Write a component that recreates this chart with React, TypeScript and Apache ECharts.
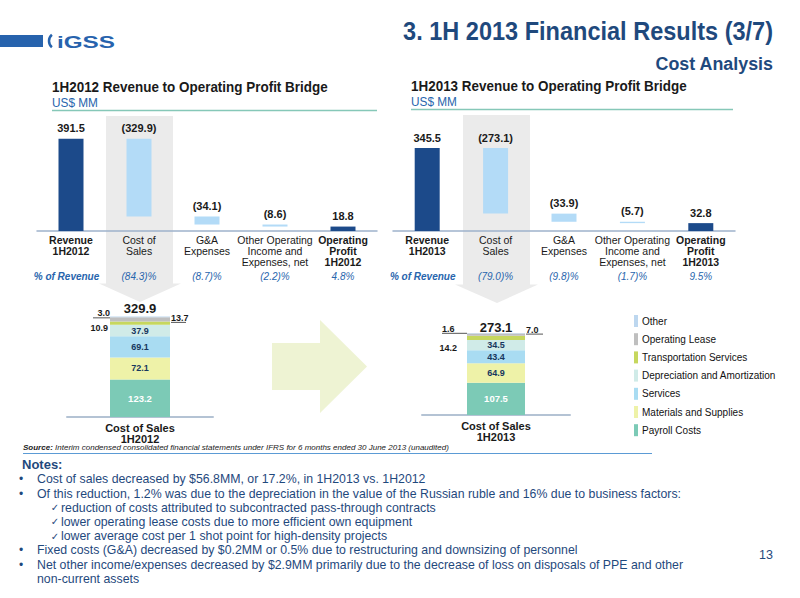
import React, { useEffect, useRef } from "react";
import * as echarts from "echarts";

const FONT = "'Liberation Sans Narrow', 'Liberation Sans', Arial, sans-serif";

// ---------------- data ----------------
const bridgeCats2012 = ["Revenue\n1H2012", "Cost of\nSales", "G&A\nExpenses", "Other Operating\nIncome and\nExpenses, net", "Operating\nProfit\n1H2012"];
const bridgeCats2013 = ["Revenue\n1H2013", "Cost of\nSales", "G&A\nExpenses", "Other Operating\nIncome and\nExpenses, net", "Operating\nProfit\n1H2013"];
const bridgeValues2012 = [391.5, -329.9, -34.1, -8.6, 18.8];
const bridgeValues2013 = [345.5, -273.1, -33.9, -5.7, 32.8];
const pctLabels2012 = ["% of Revenue", "(84.3)%", "(8.7)%", "(2.2)%", "4.8%"];
const pctLabels2013 = ["% of Revenue", "(79.0)%", "(9.8)%", "(1.7)%", "9.5%"];

const costComponents = ["Payroll Costs", "Materials and Supplies", "Services", "Depreciation and Amortization", "Transportation Services", "Operating Lease", "Other"];
const costs2012 = [123.2, 72.1, 69.1, 37.9, 10.9, 13.7, 3.0];
const costs2013 = [107.5, 64.9, 43.4, 34.5, 14.2, 7.0, 1.6];
const costTotal2012 = 329.9;
const costTotal2013 = 273.1;
const costCat2012 = ["Cost of Sales\n1H2012"];
const costCat2013 = ["Cost of Sales\n1H2013"];
const legendOrder = ["Other", "Operating Lease", "Transportation Services", "Depreciation and Amortization", "Services", "Materials and Supplies", "Payroll Costs"];

const notesLines = [
  { lvl: 1, text: "Cost of sales decreased by $56.8MM, or 17.2%, in 1H2013 vs. 1H2012" },
  { lvl: 1, text: "Of this reduction, 1.2% was due to the depreciation in the value of the Russian ruble and 16% due to business factors:" },
  { lvl: 2, text: "reduction of costs attributed to subcontracted pass-through contracts" },
  { lvl: 2, text: "lower operating lease costs due to more efficient own equipment" },
  { lvl: 2, text: "lower average cost per 1 shot point for high-density projects" },
  { lvl: 1, text: "Fixed costs (G&A) decreased by $0.2MM or 0.5% due to restructuring and downsizing of personnel" },
  { lvl: 1, text: "Net other income/expenses decreased by $2.9MM primarily due to the decrease of loss on disposals of PPE and other" },
  { lvl: 0, text: "non-current assets" },
];

// ---------------- styles ----------------
const NAVY = "#1c4a8a";
const LIGHT = "#b3dbf7";
const TXT = "#1a1a1a";
const DARKBLUE = "#1F497D";
const MIDBLUE = "#2865ad";
const stackColors = ["#7ccab6", "#eef2a8", "#a9dcf2", "#d0ebe8", "#c6d75e", "#bfbfbf", "#bdd7ef"];

let _ctx: CanvasRenderingContext2D | null = null;
function measure(text: string, font: string): number {
  if (!_ctx) _ctx = document.createElement("canvas").getContext("2d");
  if (!_ctx) return text.length * 6;
  _ctx.font = font;
  return _ctx.measureText(text).width;
}

function gtext(text: string, x: number, y: number, o: any) {
  const size = o.size || 12;
  const weight = o.weight || "normal";
  const fstyle = o.fstyle || "normal";
  const font = `${fstyle} ${weight} ${size}px ${FONT}`;
  const sx = o.target ? o.target / measure(text, font) : o.scale || 1;
  return {
    type: "text",
    x,
    y,
    scaleX: sx,
    z: 5,
    silent: true,
    style: {
      text,
      fontSize: size,
      fontWeight: weight,
      fontStyle: fstyle,
      fontFamily: FONT,
      fill: o.color || TXT,
      align: o.align || "left",
      textAlign: o.align || "left",
      verticalAlign: "middle",
      textVerticalAlign: "middle",
    },
  };
}

function bridgeSeries(vals: number[], axisIdx: number, stack: string) {
  let running = vals[0];
  const base = vals.map((v, i) => {
    if (i === 0 || i === vals.length - 1) return 0;
    running += v;
    return running;
  });
  const heights = vals.map((v, i) => ({
    value: Math.abs(v),
    itemStyle: { color: i === 0 || i === vals.length - 1 ? NAVY : LIGHT },
  }));
  return [
    {
      type: "bar", name: stack + "base", stack, xAxisIndex: axisIdx, yAxisIndex: axisIdx,
      barWidth: 25, silent: true, itemStyle: { color: "transparent" }, data: base,
    },
    {
      type: "bar", name: stack + "val", stack, xAxisIndex: axisIdx, yAxisIndex: axisIdx,
      barWidth: 25, silent: true, data: heights,
      label: {
        show: true, position: "top", distance: 5, fontFamily: FONT, fontSize: 11, fontWeight: "bold", color: TXT,
        formatter: (p: any) => {
          const v = vals[p.dataIndex];
          return v < 0 ? `(${Math.abs(v).toFixed(1)})` : v.toFixed(1);
        },
      },
    },
  ];
}

function stackLabel(i: number, y2012: boolean): any {
  const fmt = (p: any) => Number(p.value).toFixed(1);
  const base = { show: true, fontFamily: FONT, fontSize: 9, fontWeight: "bold", formatter: fmt };
  if (i === 0) return { ...base, position: "inside", color: "#ffffff", fontSize: 9.5 };
  if (i <= 3) return { ...base, position: "inside", color: "#17375e" };
  if (i === 4)
    return { ...base, position: "left", color: TXT, distance: y2012 ? 2 : 10, offset: [0, y2012 ? 5 : 10] };
  const under = (w: number, align: string) => ({
    t: { fontFamily: FONT, fontSize: 9, fontWeight: "bold", color: TXT, lineHeight: 8, align },
    u: { width: w, height: 1, lineHeight: 1, backgroundColor: "#555" },
  });
  if (i === 5)
    return {
      show: true, position: "right", distance: 1, offset: [0, y2012 ? -1 : -4.5],
      formatter: (p: any) => `{t|${Number(p.value).toFixed(1)}}\n{u|}`,
      rich: under(y2012 ? 15 : 17, "left"),
    };
  return {
    show: true, position: "left", distance: 0, offset: [0, y2012 ? -3 : -4],
    formatter: (p: any) => `{t|${Number(p.value).toFixed(1)}}\n{u|}`,
    rich: under(y2012 ? 17 : 25, y2012 ? "right" : "left"),
  };
}

function stackSeries(vals: number[], axisIdx: number, stack: string, y2012: boolean, total: number) {
  const w = y2012 ? 60 : 58;
  const s: any[] = costComponents.map((name, i) => ({
    type: "bar", name, stack, stackStrategy: "all", xAxisIndex: axisIdx, yAxisIndex: axisIdx,
    barWidth: w, silent: true, data: [vals[i]], itemStyle: { color: stackColors[i] },
    label: stackLabel(i, y2012),
  }));
  s.push({
    type: "bar", name: stack + "total", stack, stackStrategy: "all", xAxisIndex: axisIdx, yAxisIndex: axisIdx,
    barWidth: w, silent: true, data: [0], itemStyle: { color: "transparent" },
    label: {
      show: true, position: "top", distance: y2012 ? 1 : -1, fontFamily: FONT, fontSize: 13, fontWeight: "bold", color: TXT,
      formatter: () => total.toFixed(1),
    },
  });
  return s;
}

const bridgeAxisLabel = (boldIdx: number[]) => ({
  interval: 0,
  margin: 3,
  formatter: (v: string, i: number) =>
    v.split("\n").map((l) => `{${boldIdx.includes(i) ? "b" : "n"}|${l}}`).join("\n"),
  rich: {
    b: { fontFamily: FONT, fontSize: 10.5, fontWeight: "bold", color: TXT, lineHeight: 11 },
    n: { fontFamily: FONT, fontSize: 10.5, fontWeight: "normal", color: TXT, lineHeight: 11 },
  },
});

const pctAxisLabel = {
  interval: 0,
  margin: 2,
  formatter: (v: string, i: number) => (i === 0 ? `{f|${v}}` : `{p|${v}}`),
  rich: {
    f: { fontFamily: FONT, fontSize: 10, fontWeight: "bold", fontStyle: "italic", color: MIDBLUE, padding: [0, 9, 0, 0] },
    p: { fontFamily: FONT, fontSize: 10, fontStyle: "italic", color: MIDBLUE },
  },
};

const costAxisLabel = {
  margin: 5.5,
  fontFamily: FONT,
  fontSize: 11,
  fontWeight: "bold",
  color: TXT,
  lineHeight: 11,
};

function buildGraphics() {
  const g: any[] = [];
  // logo
  g.push({ type: "rect", shape: { x: 0, y: 35, width: 43, height: 12 }, style: { fill: "#2763ad" } });
  g.push({
    type: "arc", shape: { cx: 57, cy: 41, r: 8, startAngle: Math.PI * 0.72, endAngle: Math.PI * 1.28 },
    style: { stroke: "#2763ad", lineWidth: 2.5, fill: null },
  });
  g.push(gtext("iGSS", 57, 41.5, { size: 17, weight: "bold", color: "#2763ad", target: 58 }));
  // headline
  const titleText = "3. 1H 2013 Financial Results (3/7)";
  const tFont = `normal bold 25px ${FONT}`;
  const tScale = 370 / measure(titleText, tFont);
  g.push(gtext(titleText, 773, 31, { size: 25, weight: "bold", color: DARKBLUE, align: "right", scale: tScale }));
  g.push(gtext("Cost Analysis", 773, 63.5, { size: 19, weight: "bold", color: DARKBLUE, align: "right", scale: tScale }));

  // grey highlight columns with down arrows
  g.push({ type: "rect", z: -1, silent: true, shape: { x: 106, y: 116, width: 67, height: 168 }, style: { fill: "#ebebeb" } });
  g.push({ type: "polygon", z: -1, silent: true, shape: { points: [[99, 283.5], [181, 283.5], [140, 302]] }, style: { fill: "#ebebeb" } });
  g.push({ type: "rect", z: -1, silent: true, shape: { x: 463, y: 115, width: 67, height: 170 }, style: { fill: "#ebebeb" } });
  g.push({ type: "polygon", z: -1, silent: true, shape: { points: [[455, 284.5], [538, 284.5], [497, 303]] }, style: { fill: "#ebebeb" } });

  // bridge titles
  const bt1 = "1H2012 Revenue to Operating Profit Bridge";
  const bt2 = "1H2013 Revenue to Operating Profit Bridge";
  g.push(gtext(bt1, 52, 87, { size: 14, weight: "bold", color: TXT, target: 276 }));
  g.push(gtext(bt2, 411, 86, { size: 14, weight: "bold", color: TXT, target: 276 }));
  g.push(gtext("US$ MM", 52, 103, { size: 13, color: MIDBLUE, target: 46 }));
  g.push(gtext("US$ MM", 411, 102, { size: 13, color: MIDBLUE, target: 46 }));
  g.push({ type: "line", silent: true, shape: { x1: 52, y1: 110.5, x2: 377, y2: 110.5 }, style: { stroke: "#86c8b8", lineWidth: 1.5 } });
  g.push({ type: "line", silent: true, shape: { x1: 411, y1: 109.5, x2: 733, y2: 109.5 }, style: { stroke: "#86c8b8", lineWidth: 1.5 } });

  // big right arrow
  g.push({
    type: "polygon", silent: true, z: -1,
    shape: { points: [[272, 343], [320, 343], [320, 320], [367, 366.5], [320, 413], [320, 390], [272, 390]] },
    style: { fill: "#eef3d3" },
  });

  // source
  const srcB = "Source:";
  const srcI = " Interim condensed consolidated financial statements under IFRS for 6 months ended 30 June 2013 (unaudited)";
  const srcW = measure(srcB, `italic bold 8px ${FONT}`) + measure(srcI, `italic normal 8px ${FONT}`);
  g.push({
    type: "text", x: 23, y: 448, scaleX: 426 / srcW, silent: true,
    style: {
      text: `{b|${srcB}}{i|${srcI}}`,
      rich: {
        b: { fontFamily: FONT, fontSize: 8, fontWeight: "bold", fontStyle: "italic", fill: TXT, color: TXT },
        i: { fontFamily: FONT, fontSize: 8, fontStyle: "italic", fill: TXT, color: TXT },
      },
      align: "left", textAlign: "left", verticalAlign: "middle", textVerticalAlign: "middle",
    },
  });
  g.push({ type: "line", silent: true, shape: { x1: 23, y1: 453.5, x2: 652, y2: 453.5 }, style: { stroke: "#5b9bd5", lineWidth: 1 } });

  // notes
  g.push(gtext("Notes:", 22, 464, { size: 13, weight: "bold", color: DARKBLUE }));
  const nFont = `normal normal 12.5px ${FONT}`;
  const nScale = 645 / measure(notesLines[1].text, nFont);
  const ys = [479, 493.5, 507.5, 521.5, 536, 550, 564.5, 579];
  notesLines.forEach((ln, i) => {
    const y = ys[i];
    if (ln.lvl === 1) {
      g.push(gtext("•", 21, y, { size: 12, color: DARKBLUE, align: "center" }));
      g.push(gtext(ln.text, 37, y, { size: 12.5, color: DARKBLUE, scale: nScale }));
    } else if (ln.lvl === 2) {
      g.push({
        type: "text", x: 55, y, silent: true,
        style: { text: "✓", fontSize: 10, fontFamily: "'DejaVu Sans', sans-serif", fill: DARKBLUE, align: "center", textAlign: "center", verticalAlign: "middle", textVerticalAlign: "middle" },
      });
      g.push(gtext(ln.text, 61, y, { size: 12.5, color: DARKBLUE, scale: nScale }));
    } else {
      g.push(gtext(ln.text, 37, y, { size: 12.5, color: DARKBLUE, scale: nScale }));
    }
  });
  g.push(gtext("13", 766, 555, { size: 12.5, color: DARKBLUE, align: "center" }));
  return g;
}

function buildOption(): any {
  return {
    animation: false,
    backgroundColor: "#ffffff",
    textStyle: { fontFamily: FONT },
    grid: [
      { left: 37, width: 340, top: 125, height: 106 },
      { left: 393, width: 342, top: 123, height: 108 },
      { left: 67, width: 146, top: 295, height: 122 },
      { left: 422, width: 148, top: 295, height: 120 },
    ],
    xAxis: [
      {
        type: "category", gridIndex: 0, data: bridgeCats2012,
        axisLine: { lineStyle: { color: "#9fb2cc", width: 1.5 } }, axisTick: { show: false },
        axisLabel: bridgeAxisLabel([0, 4]),
      },
      {
        type: "category", gridIndex: 1, data: bridgeCats2013,
        axisLine: { lineStyle: { color: "#9fb2cc", width: 1.5 } }, axisTick: { show: false },
        axisLabel: bridgeAxisLabel([0, 4]),
      },
      {
        type: "category", gridIndex: 2, data: costCat2012,
        axisLine: { lineStyle: { color: "#b4c3d4", width: 2 } }, axisTick: { show: false },
        axisLabel: costAxisLabel,
      },
      {
        type: "category", gridIndex: 3, data: costCat2013,
        axisLine: { lineStyle: { color: "#b4c3d4", width: 2 } }, axisTick: { show: false },
        axisLabel: costAxisLabel,
      },
      {
        type: "category", gridIndex: 0, data: pctLabels2012, position: "bottom", offset: 38,
        axisLine: { show: false }, axisTick: { show: false }, axisLabel: pctAxisLabel,
      },
      {
        type: "category", gridIndex: 1, data: pctLabels2013, position: "bottom", offset: 38,
        axisLine: { show: false }, axisTick: { show: false }, axisLabel: pctAxisLabel,
      },
    ],
    yAxis: [
      { type: "value", gridIndex: 0, min: 0, max: 450, show: false },
      { type: "value", gridIndex: 1, min: 0, max: 450, show: false },
      { type: "value", gridIndex: 2, min: 0, max: 400, show: false },
      { type: "value", gridIndex: 3, min: 0, max: 400, show: false },
    ],
    legend: {
      data: legendOrder,
      orient: "vertical",
      left: 629,
      top: 310,
      icon: "rect",
      itemWidth: 4,
      itemHeight: 12,
      itemGap: 6.2,
      selectedMode: false,
      textStyle: { fontFamily: FONT, fontSize: 10, color: "#111", padding: [0, 0, 0, -1] },
    },
    series: [
      ...bridgeSeries(bridgeValues2012, 0, "b12"),
      ...bridgeSeries(bridgeValues2013, 1, "b13"),
      ...stackSeries(costs2012, 2, "c12", true, costTotal2012),
      ...stackSeries(costs2013, 3, "c13", false, costTotal2013),
    ],
    graphic: { elements: buildGraphics() },
  };
}

export default function App() {
  const ref = useRef<HTMLDivElement>(null);
  useEffect(() => {
    if (!ref.current) return;
    const chart = echarts.init(ref.current, null, { renderer: "svg" });
    chart.setOption(buildOption());
    return () => chart.dispose();
  }, []);
  return (
    <div
      ref={ref}
      style={{ position: "fixed", left: 0, top: 0, width: 800, height: 598, background: "#fff" }}
    />
  );
}
